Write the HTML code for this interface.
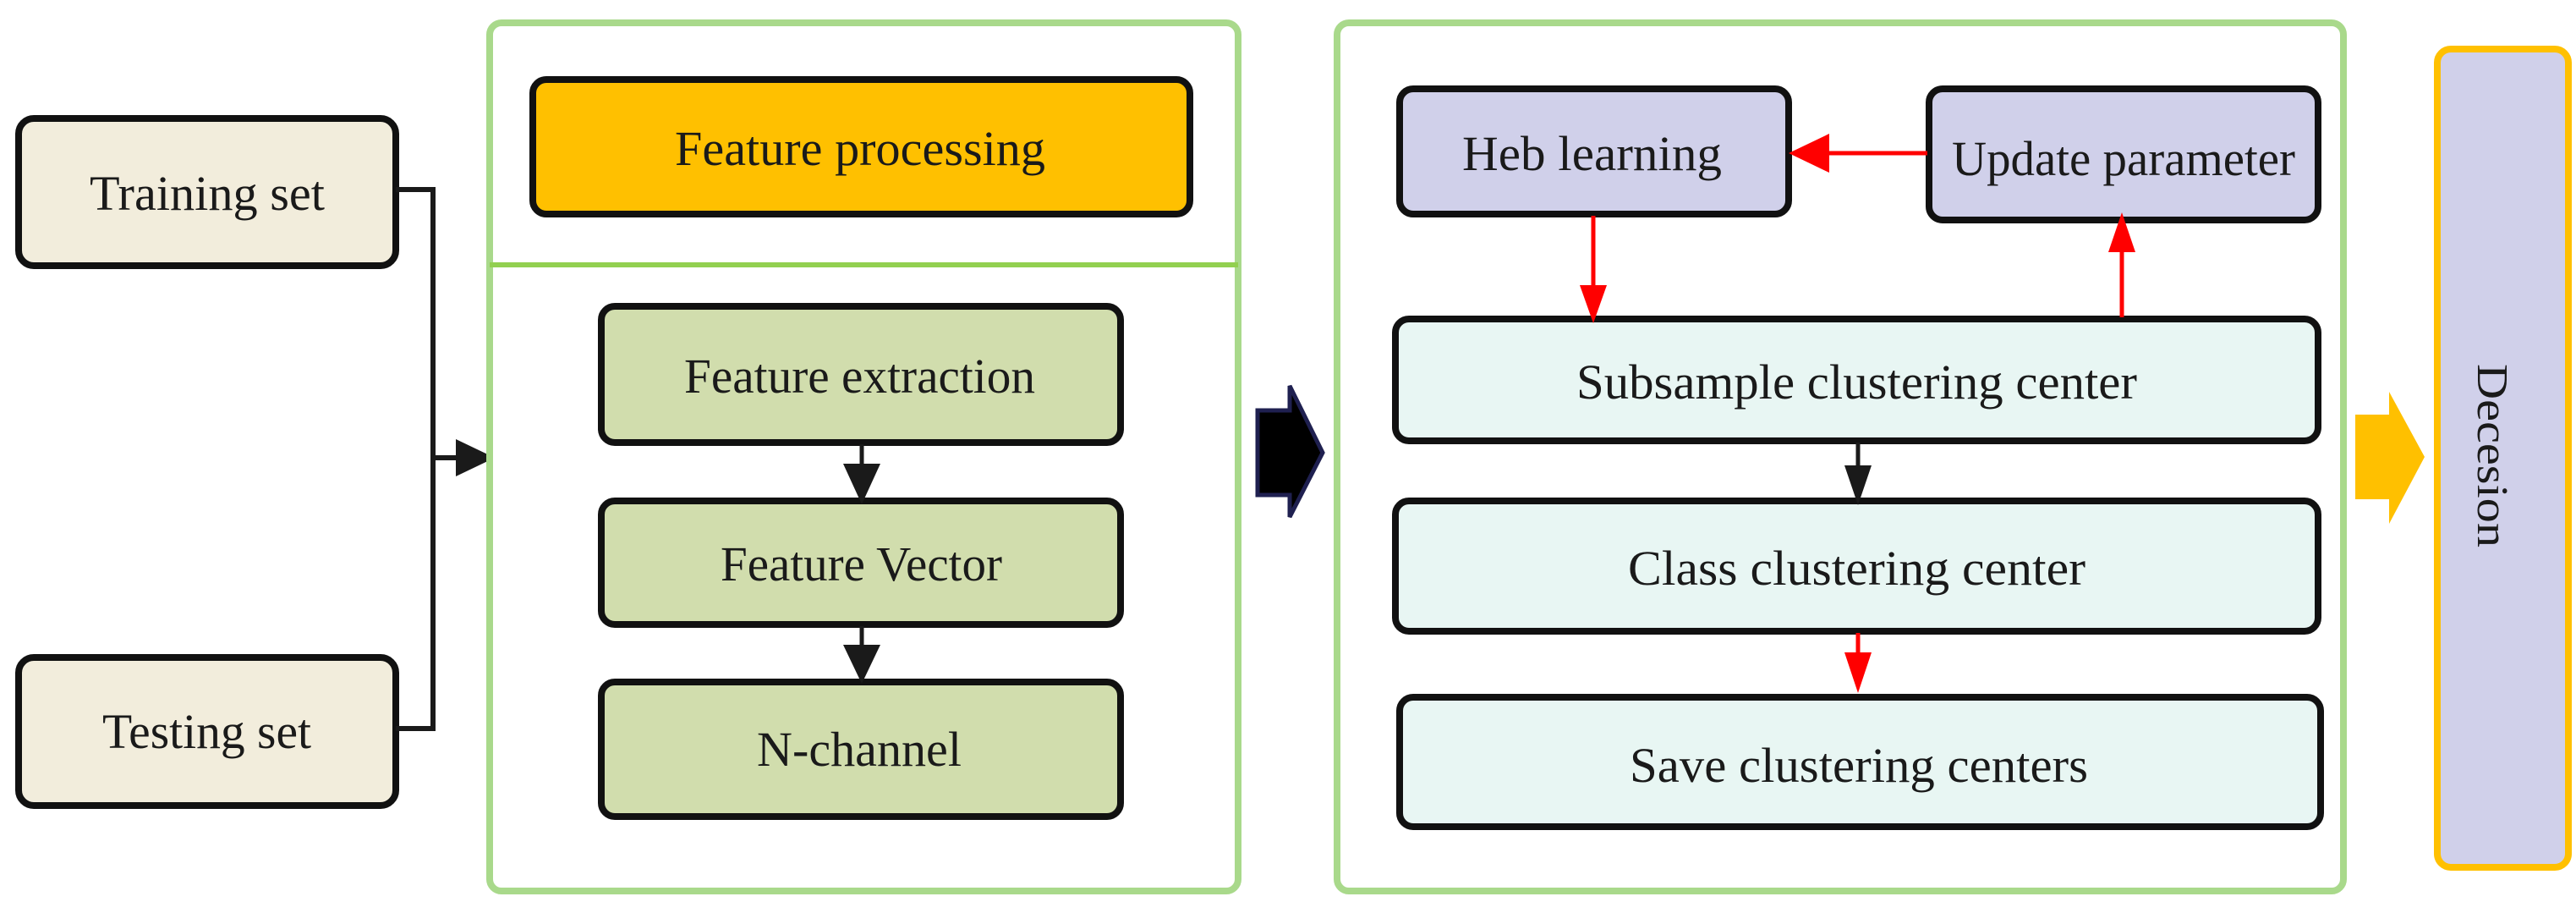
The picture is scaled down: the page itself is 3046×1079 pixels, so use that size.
<!DOCTYPE html>
<html><head><meta charset="utf-8"><style>html,body{margin:0;padding:0;background:#fff}svg{display:block}</style></head>
<body>
<svg width="3046" height="1079" viewBox="0 0 3046 1079" xmlns="http://www.w3.org/2000/svg" font-family="Liberation Serif, serif" font-size="58" fill="#1a1a1a">
<g stroke="#111" stroke-width="8">
<rect x="22" y="140" width="446" height="174" rx="18" fill="#f2eddc"/>
<rect x="22" y="777" width="446" height="175" rx="18" fill="#f2eddc"/>
</g>
<polyline points="468,224 512,224 512,861 468,861" fill="none" stroke="#1a1a1a" stroke-width="6"/>
<line x1="512" y1="541" x2="545" y2="541" stroke="#1a1a1a" stroke-width="6"/>
<polygon points="539,519 585,541 539,563" fill="#1a1a1a"/>
<rect x="579" y="27" width="885" height="1026" rx="14" fill="#fff" stroke="#a9d98b" stroke-width="8"/>
<line x1="579" y1="313" x2="1464" y2="313" stroke="#92d050" stroke-width="6"/>
<g stroke="#111" stroke-width="8">
<rect x="630" y="94" width="777" height="159" rx="16" fill="#ffc000"/>
<rect x="711" y="362" width="614" height="161" rx="16" fill="#d1ddad"/>
<rect x="711" y="592" width="614" height="146" rx="16" fill="#d1ddad"/>
<rect x="711" y="806" width="614" height="159" rx="16" fill="#d1ddad"/>
</g>
<g stroke="#1a1a1a" stroke-width="5"><line x1="1019" y1="525" x2="1019" y2="555"/><line x1="1019" y1="740" x2="1019" y2="770"/></g>
<polygon points="997,548 1041,548 1019,596" fill="#1a1a1a"/>
<polygon points="997,762 1041,762 1019,808" fill="#1a1a1a"/>
<polygon points="1487,485 1525,485 1525,456 1564,535 1525,611 1525,585 1487,585" fill="#000" stroke="#1f2050" stroke-width="5"/>
<rect x="1581" y="27" width="1190" height="1026" rx="14" fill="#fff" stroke="#a9d98b" stroke-width="8"/>
<g stroke="#111" stroke-width="8">
<rect x="1655" y="105" width="460" height="148" rx="16" fill="#d0d0ea"/>
<rect x="2281" y="105" width="460" height="155" rx="16" fill="#d0d0ea"/>
<rect x="1650" y="377" width="1091" height="144" rx="16" fill="#e8f6f3"/>
<rect x="1650" y="592" width="1091" height="154" rx="16" fill="#e8f6f3"/>
<rect x="1655" y="824" width="1089" height="153" rx="16" fill="#e8f6f3"/>
</g>
<g stroke="#ff0000" stroke-width="5">
<line x1="2279" y1="181" x2="2160" y2="181"/>
<line x1="1884" y1="255" x2="1884" y2="340"/>
<line x1="2509" y1="375" x2="2509" y2="295"/>
<line x1="2197" y1="748" x2="2197" y2="775"/>
</g>
<polygon points="2163,158 2115,181 2163,204" fill="#ff0000"/>
<polygon points="1868,337 1900,337 1884,382" fill="#ff0000"/>
<polygon points="2493,298 2525,298 2509,251" fill="#ff0000"/>
<polygon points="2181,771 2213,771 2197,819" fill="#ff0000"/>
<line x1="2197" y1="523" x2="2197" y2="553" stroke="#1a1a1a" stroke-width="5"/>
<polygon points="2181,550 2213,550 2197,597" fill="#1a1a1a"/>
<polygon points="2785,490 2825,490 2825,463 2867,540 2825,619 2825,590 2785,590" fill="#ffc000"/>
<rect x="2882" y="58" width="155" height="967" rx="16" fill="#d0d0ea" stroke="#ffc000" stroke-width="8"/>
<g>
<text x="106" y="248" textLength="278" lengthAdjust="spacingAndGlyphs">Training set</text>
<text x="121" y="884" textLength="247" lengthAdjust="spacingAndGlyphs">Testing set</text>
<text x="798" y="195" textLength="438" lengthAdjust="spacingAndGlyphs">Feature processing</text>
<text x="809" y="464" textLength="415" lengthAdjust="spacingAndGlyphs">Feature extraction</text>
<text x="852" y="686" textLength="333" lengthAdjust="spacingAndGlyphs">Feature Vector</text>
<text x="895" y="905" textLength="242" lengthAdjust="spacingAndGlyphs">N-channel</text>
<text x="1729" y="201" textLength="307" lengthAdjust="spacingAndGlyphs">Heb learning</text>
<text x="2308" y="207" textLength="406" lengthAdjust="spacingAndGlyphs">Update parameter</text>
<text x="1864" y="471" textLength="663" lengthAdjust="spacingAndGlyphs">Subsample clustering center</text>
<text x="1925" y="691" textLength="541" lengthAdjust="spacingAndGlyphs">Class clustering center</text>
<text x="1927" y="924" textLength="542" lengthAdjust="spacingAndGlyphs">Save clustering centers</text>
<text transform="translate(2930,430) rotate(90)" font-size="52" textLength="217" lengthAdjust="spacingAndGlyphs">Decesion</text>
</g>
</svg>
</body></html>
